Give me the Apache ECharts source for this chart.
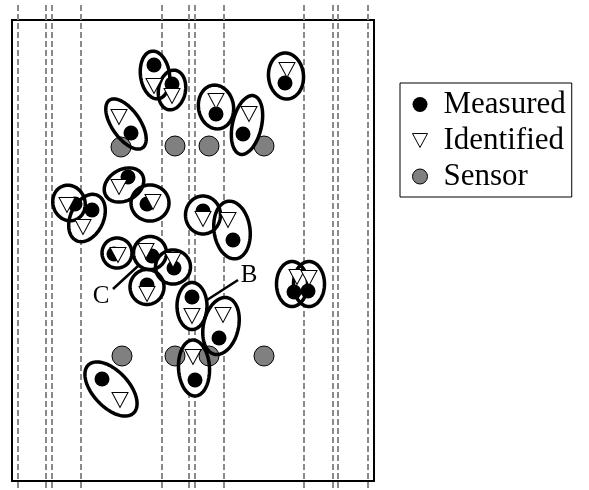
<!DOCTYPE html>
<html>
<head>
<meta charset="utf-8">
<script src="https://cdn.jsdelivr.net/npm/echarts@6/dist/echarts.min.js"></script>
<style>
  html, body { margin: 0; padding: 0; background: #fff; }
  #chart { width: 589px; height: 490px; }
</style>
</head>
<body>
<div id="chart"></div>
<script>
// Floor plan: x to the right, y downward, frame is 362 x 461 units.

// Dashed lane boundaries (x positions)
const laneX = [6, 34, 40, 69, 150, 177, 183, 212, 292, 321, 326, 356];

// Sensor positions
const sensorX = [109, 163, 197, 252, 110, 163, 197, 252];
const sensorY = [127, 126, 126, 126, 336, 336, 336, 336];

// Measured positions
const measuredX = [142, 160, 119, 273, 204, 231, 63, 80, 116, 135, 102, 140, 162, 135, 191, 221, 180, 207, 282, 296, 183, 90];
const measuredY = [45, 64, 113, 63, 94, 114, 184, 190, 157, 184, 234, 236, 248, 265, 191, 220, 277, 318, 272, 271, 360, 359];

// Identified positions (same order as measured)
const identifiedX = [142, 160, 107, 275, 204, 237, 55, 71, 107, 141, 106, 134, 161, 135, 191, 216, 180, 211, 285, 297, 181, 108];
const identifiedY = [66, 76, 97, 50, 81, 94, 185, 207, 167, 182, 235, 231, 240, 274, 199, 200, 296, 295, 257, 258, 337, 380];

// Association ellipses: centre, semi-axes and tilt (degrees, clockwise)
const ringX = [143, 160, 114, 274, 204, 235, 57, 75, 112, 138, 105, 138, 161, 135, 191, 220, 180, 209, 280, 297, 182, 99];
const ringY = [55, 70, 104, 56, 87, 105, 183, 198, 165, 183, 233, 233, 247, 267, 195, 210, 286, 306, 264, 264, 348, 369];
const ringA = [24, 20, 29, 23, 22, 30, 18, 25, 21, 19, 15, 16.5, 17.5, 17.5, 19, 29, 23.5, 29, 22.5, 22.5, 28, 33];
const ringB = [14.5, 13.5, 14, 17.5, 17.5, 14.5, 16, 16.5, 15.5, 18, 15, 16.5, 17, 17, 17.5, 18, 15, 17.5, 15.5, 15.5, 15.5, 18];
const ringTilt = [82, 100, 55, 85, 80, 103, 70, 115, 150, 0, 0, 0, 0, 90, 90, 82, 90, 103, 90, 90, 87, 47];

// Callout labels: leader line from (x1,y1) to (x2,y2), text at (tx,ty)
const calloutText = ['B', 'C'];
const calloutX1 = [195, 126];
const calloutY1 = [280, 246];
const calloutX2 = [226, 101];
const calloutY2 = [260, 269];
const calloutTX = [237, 89];
const calloutTY = [255, 276];

const SERIF = 'Liberation Serif, Times New Roman, serif';
const TRIANGLE = 'path://M0,0L14,0L7,13Z';

const zip = (xs, ys) => xs.map((x, i) => [x, ys[i]]);

function ellipsePoints(api) {
  const c = api.coord([api.value(0), api.value(1)]);
  const a = Math.abs(api.size([api.value(2), 0])[0]);
  const b = Math.abs(api.size([0, api.value(3)])[1]);
  const t = api.value(4) * Math.PI / 180;
  const pts = [];
  const n = 90;
  for (let k = 0; k < n; k++) {
    const u = k / n * Math.PI * 2;
    const ex = a * Math.cos(u), ey = b * Math.sin(u);
    pts.push([c[0] + ex * Math.cos(t) - ey * Math.sin(t),
              c[1] + ex * Math.sin(t) + ey * Math.cos(t)]);
  }
  return pts;
}

const ringData = ringX.map((x, i) => [x, ringY[i], ringA[i], ringB[i], ringTilt[i]]);

const chart = echarts.init(document.getElementById('chart'), null, { renderer: 'canvas' });

chart.setOption({
  animation: false,
  backgroundColor: '#fff',
  grid: {
    left: 12, top: 20, width: 362, height: 461,
    show: true, borderColor: '#000', borderWidth: 2, backgroundColor: 'transparent'
  },
  xAxis: { type: 'value', min: 0, max: 362, show: false },
  yAxis: { type: 'value', min: 0, max: 461, inverse: true, show: false },
  legend: {
    orient: 'vertical',
    left: 400, top: 83,
    padding: [6, 6, 5, 12],
    itemWidth: 15, itemHeight: 15, itemGap: 5,
    borderColor: '#000', borderWidth: 1,
    selectedMode: false,
    textStyle: { fontFamily: SERIF, fontSize: 31, color: '#000', lineHeight: 30, padding: [0, 0, 0, 11] },
    data: [
      { name: 'Measured', icon: 'circle', itemStyle: { color: '#000', borderWidth: 0 } },
      { name: 'Identified', icon: TRIANGLE, itemStyle: { color: '#fff', borderColor: '#000', borderWidth: 1 } },
      { name: 'Sensor', icon: 'circle', itemStyle: { color: '#808080', borderColor: '#000', borderWidth: 1 } }
    ]
  },
  series: [
    {
      name: 'lanes',
      type: 'custom',
      z: 1,
      silent: true,
      clip: false,
      data: laneX.map(x => [x]),
      encode: { x: 0 },
      renderItem: (params, api) => {
        const p1 = api.coord([api.value(0), -15]);
        const p2 = api.coord([api.value(0), 470]);
        return {
          type: 'line',
          shape: { x1: p1[0], y1: p1[1], x2: p2[0], y2: p2[1] },
          style: { stroke: '#8a8a8a', lineWidth: 2, lineDash: [6, 3] }
        };
      }
    },
    {
      name: 'ring fill',
      type: 'custom',
      z: 2,
      silent: true,
      clip: false,
      data: ringData,
      encode: { x: 0, y: 1 },
      renderItem: (params, api) => ({
        type: 'polygon',
        shape: { points: ellipsePoints(api) },
        style: { fill: '#fff', stroke: null }
      })
    },
    {
      name: 'Sensor',
      type: 'scatter',
      z: 3,
      symbol: 'circle',
      symbolSize: 20,
      itemStyle: { color: '#808080', borderColor: '#000', borderWidth: 1, opacity: 1 },
      data: zip(sensorX, sensorY)
    },
    {
      name: 'ring outline',
      type: 'custom',
      z: 4,
      silent: true,
      clip: false,
      data: ringData,
      encode: { x: 0, y: 1 },
      renderItem: (params, api) => ({
        type: 'polygon',
        shape: { points: ellipsePoints(api) },
        style: { fill: null, stroke: '#000', lineWidth: 3.5 }
      })
    },
    {
      name: 'Measured',
      type: 'scatter',
      z: 5,
      symbol: 'circle',
      symbolSize: 15,
      itemStyle: { color: '#000', opacity: 1 },
      data: zip(measuredX, measuredY)
    },
    {
      name: 'Identified',
      type: 'scatter',
      z: 6,
      symbol: TRIANGLE,
      symbolSize: [16, 15],
      symbolKeepAspect: false,
      itemStyle: { color: '#fff', borderColor: '#000', borderWidth: 1, opacity: 1 },
      data: zip(identifiedX, identifiedY)
    },
    {
      name: 'callouts',
      type: 'custom',
      z: 7,
      silent: true,
      clip: false,
      data: calloutText.map((t, i) => [calloutX1[i], calloutY1[i], calloutX2[i], calloutY2[i], calloutTX[i], calloutTY[i]]),
      encode: { x: 0, y: 1 },
      renderItem: (params, api) => {
        const a = api.coord([api.value(0), api.value(1)]);
        const b = api.coord([api.value(2), api.value(3)]);
        const t = api.coord([api.value(4), api.value(5)]);
        return {
          type: 'group',
          children: [
            {
              type: 'line',
              shape: { x1: a[0], y1: a[1], x2: b[0], y2: b[1] },
              style: { stroke: '#000', lineWidth: 2.5 }
            },
            {
              type: 'text',
              style: {
                text: calloutText[params.dataIndex],
                x: t[0], y: t[1],
                fill: '#000',
                fontFamily: SERIF, fontSize: 25,
                align: 'center', verticalAlign: 'middle'
              }
            }
          ]
        };
      }
    }
  ]
});
</script>
</body>
</html>
